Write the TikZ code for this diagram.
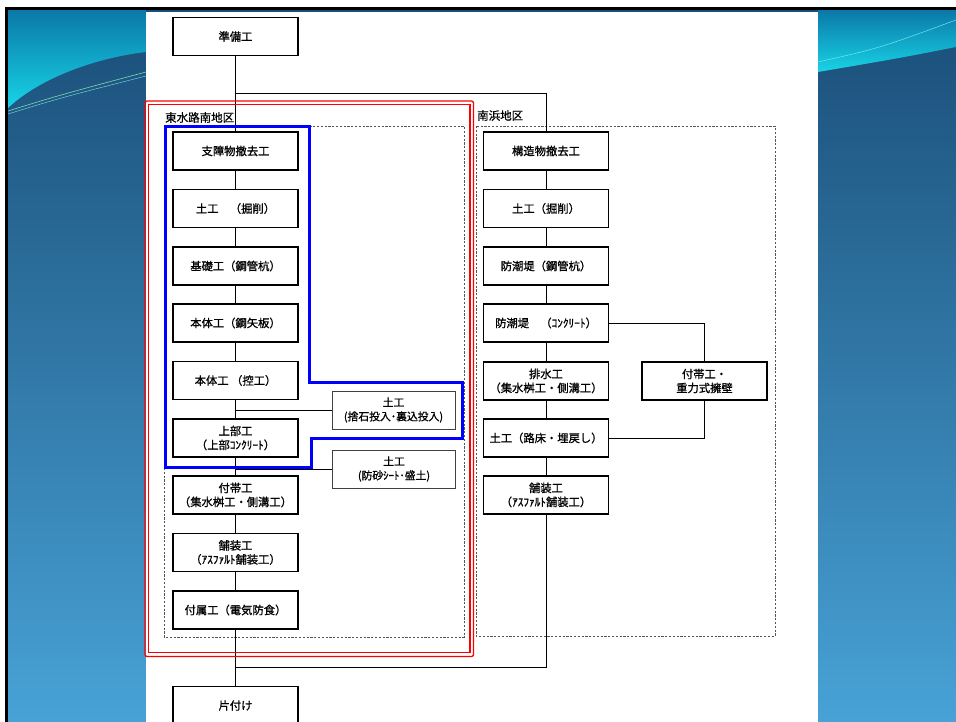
\documentclass[tikz,border=0pt]{standalone}
\usepackage{fontspec}
\newfontfamily\jp{Noto Sans CJK JP}[FakeBold=1]
\newfontfamily\jplabel{Noto Sans CJK JP}[FakeBold=0.5]
\definecolor{bgtop}{HTML}{1A4E78}
\definecolor{bgbot}{HTML}{48A2D6}
\definecolor{swtop}{HTML}{0A78A8}
\definecolor{swbot}{HTML}{18D4E6}
\definecolor{swline}{HTML}{7FD8B0}
\definecolor{dashgray}{HTML}{555555}
\begin{document}
\begin{tikzpicture}[x=1pt,y=-1pt,
  stepbox/.style={draw, line width=1.3pt, minimum width=125pt, minimum height=38pt,
    align=center, inner sep=0pt, font=\jp\fontsize{11.3}{14}\selectfont},
  sidebox/.style={draw=black!75, line width=0.8pt, minimum width=123pt, minimum height=38pt,
    align=center, inner sep=0pt, font=\jp\fontsize{10.8}{14}\selectfont},
  conn/.style={line width=1pt},
  thinconn/.style={line width=0.6pt},
  area/.style={draw=dashgray, line width=0.8pt, dash pattern=on 2.2pt off 1.6pt},
  arealabel/.style={anchor=south west, inner sep=0pt, font=\jplabel\fontsize{11.5}{13}\selectfont}
]
\useasboundingbox (0,0) rectangle (956,722);
% slide background
\fill[white] (0,0) rectangle (956,722);
\shade[top color=bgtop, bottom color=bgbot] (8,10) rectangle (956,722);
% swooshes
\shade[top color=swtop, bottom color=swbot] (8,10) -- (146,10) -- (146,52)
  .. controls (95,58) and (40,78) .. (8,108) -- cycle;
\draw[swline, line width=0.6pt] (8,111) .. controls (60,95) .. (146,72);
\draw[swbot!60!white, line width=0.4pt] (8,114) .. controls (60,98) .. (146,76);
\shade[top color=swtop, bottom color=swbot] (818,10) -- (956,10) -- (956,47)
  .. controls (900,58) .. (818,72) -- cycle;
\draw[swbot!60!white, line width=0.5pt] (818,62) .. controls (880,48) .. (956,20);
% border
\draw[black, line width=3pt] (6.5,722) -- (6.5,8.5) -- (956,8.5);
% paper
\fill[white] (146,12) rectangle (818,722);

% areas
\draw[area] (164,126) rectangle (464,637);
\draw[area] (476,126) rectangle (775,636);
\node[arealabel] (lbA) at (165,123) {東水路南地区};
\node[arealabel] (lbB) at (477,121) {南浜地区};

% left column
\node[stepbox] (p0) at (235.5,36.5) {準備工};
\node[stepbox] (l1) at (235.5,151) {支障物撤去工};
\node[stepbox] (l2) at (235.5,208.5) {土工　（掘削）};
\node[stepbox] (l3) at (235.5,266) {基礎工（鋼管杭）};
\node[stepbox] (l4) at (235.5,323) {本体工（鋼矢板）};
\node[stepbox] (l5) at (235.5,380.5) {本体工 （控工）};
\node[stepbox] (l6) at (235.5,438) {上部工\\（上部ｺﾝｸﾘｰﾄ）};
\node[stepbox] (l7) at (235.5,495) {付帯工\\（集水桝工・側溝工）};
\node[stepbox] (l8) at (235.5,552.5) {舗装工\\（ｱｽﾌｧﾙﾄ舗装工）};
\node[stepbox] (l9) at (235.5,610) {付属工（電気防食）};
\node[stepbox] (pz) at (235.5,705.5) {片付け};
\node[sidebox] (s1) at (393.5,410) {土工\\(捨石投入･裏込投入)};
\node[sidebox] (s2) at (394,469) {土工\\(防砂ｼｰﾄ･盛土)};

% right column
\node[stepbox] (r1) at (546,151) {構造物撤去工};
\node[stepbox] (r2) at (546,208.5) {土工（掘削）};
\node[stepbox] (r3) at (546,266) {防潮堤（鋼管杭）};
\node[stepbox] (r4) at (546,323) {防潮堤　（ｺﾝｸﾘｰﾄ）};
\node[stepbox] (r5) at (546,381) {排水工\\（集水桝工・側溝工）};
\node[stepbox] (r6) at (546,438) {土工（路床・埋戻し）};
\node[stepbox] (r7) at (546,495) {舗装工\\（ｱｽﾌｧﾙﾄ舗装工）};
\node[stepbox] (g1) at (704.5,381) {付帯工・\\重力式擁壁};

% connectors
\coordinate (split) at (235.5,94);
\coordinate (join) at (235.5,667);
\draw[conn] (p0.south) -- (l1.north);
\draw[conn] (split) -| (r1.north);
\foreach \a/\b in {l1/l2,l2/l3,l3/l4,l4/l5,l5/l6,l6/l7,l7/l8,l8/l9,l9/pz,
                   r1/r2,r2/r3,r3/r4,r4/r5,r5/r6,r6/r7}
  \draw[conn] (\a.south) -- (\b.north);
\draw[thinconn] (l5.south |- s1.west) -- (s1.west);
\draw[thinconn] (l6.south |- s2.west) -- (s2.west);
\draw[thinconn] (r4.east) -| (g1.north);
\draw[thinconn] (g1.south) |- (r6.east);
\draw[conn] (r7.south) |- (join);

% highlight outlines
\draw[red, line width=1.3pt, rounded corners=2pt] (145,101) rectangle (473.5,656.5);
\draw[red, line width=1.3pt] (148.5,104.5) rectangle (470,652.5);
\draw[blue, line width=3pt, line join=miter] (165.5,127) -- (309.5,127) -- (309.5,382.5)
  -- (462,382.5) -- (462,438.5) -- (311,438.5) -- (311,467) -- (165.5,467) -- cycle;
\end{tikzpicture}
\end{document}
